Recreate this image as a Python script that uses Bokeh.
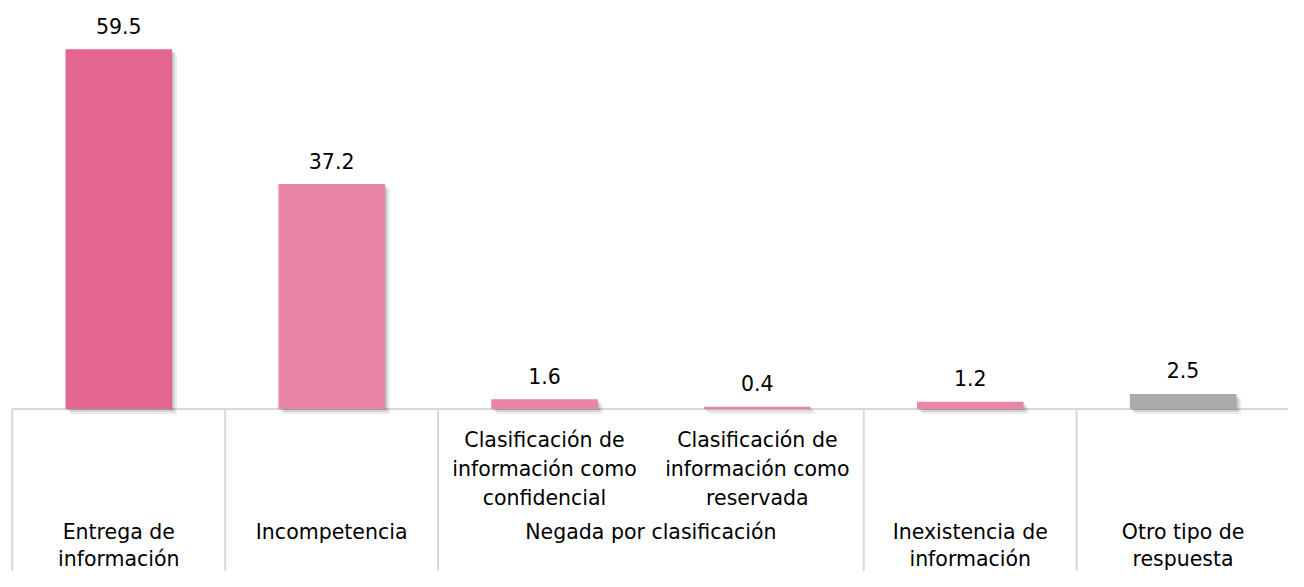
from bokeh.plotting import figure
from bokeh.models import Range1d, ColumnDataSource
from bokeh.transform import dodge
from bokeh.core.properties import value
from bokeh.embed import file_html
from bokeh.resources import INLINE

# ---- data ----
values = [59.5, 37.2, 1.6, 0.4, 1.2, 2.5]
value_labels = ["59.5", "37.2", "1.6", "0.4", "1.2", "2.5"]
sub_labels = ["", "",
              "Clasificación de\ninformación como\nconfidencial",
              "Clasificación de\ninformación como\nreservada",
              "", ""]
group_labels = ["Entrega de\ninformación", "Incompetencia", "Negada por clasificación",
                "Inexistencia de\ninformación", "Otro tipo de\nrespuesta"]
group_sizes = [1, 1, 2, 1, 1]
bar_colors = ["#E3668F", "#E985A6", "#E985A6", "#E985A6", "#E985A6", "#ABABAB"]

# ---- layout (pixel scale) ----
W, H = 1288, 571
KX, KY = W / 1304, H / 587
SX = 215.5 * KX          # px per category slot
SY = 6.2185 * KY         # px per value unit
BASE = 420 * KY          # baseline from top (px)
X0 = -(12 * KX) / SX
X1 = X0 + W / SX
Y1 = BASE / SY
Y0 = -(H - BASE) / SY

FONT = value("DejaVu Sans")
FS = "20.5px"

xs = [i + 0.5 for i in range(len(values))]
src = ColumnDataSource(dict(x=xs, top=values, color=bar_colors, lab=value_labels, sub=sub_labels))

starts = []
acc = 0
for s in group_sizes:
    starts.append(acc)
    acc += s
bounds = starts + [acc]
gcenters = [st + s / 2 for st, s in zip(starts, group_sizes)]

p = figure(width=W, height=H, x_range=Range1d(X0, X1), y_range=Range1d(Y0, Y1),
           output_backend="svg", toolbar_location=None, min_border=0,
           x_axis_location=None, y_axis_location=None)
p.grid.visible = False
p.outline_line_color = None
p.background_fill_color = "white"
p.border_fill_color = "white"

# axis & separators
p.segment(x0=bounds, y0=[0] * len(bounds), x1=bounds, y1=[Y0] * len(bounds),
          line_color="#D9D9D9", line_width=2)
p.segment(x0=[bounds[0]], y0=[0], x1=[bounds[-1]], y1=[0], line_color="#D9D9D9", line_width=2)

# soft shadows
for k, a in [(1, 0.14), (3, 0.11), (5, 0.07)]:
    p.vbar(x=dodge("x", k / SX), top=dodge("top", -k / SY), bottom=-k / SY, width=0.5,
           source=src, fill_color="black", fill_alpha=a, line_color=None)

# bars
p.vbar(x="x", top="top", bottom=0, width=0.5, source=src, fill_color="color", line_color=None)

# value labels
p.text(x="x", y="top", text="lab", source=src, text_font=FONT, text_font_size=FS,
       text_align="center", text_baseline="middle", y_offset=-23.5, text_color="#000000")

# sub-category labels
p.text(x="x", y=0, text="sub", source=src, text_font=FONT, text_font_size=FS,
       text_align="center", text_baseline="top", y_offset=19, text_line_height=1.2,
       text_color="#000000")

# group labels
p.text(x=gcenters, y=[0] * len(gcenters), text=group_labels, text_font=FONT, text_font_size=FS,
       text_align="center", text_baseline="top", y_offset=111, text_line_height=1.12,
       text_color="#000000")

open("out.html", "w").write(file_html(p, INLINE))
